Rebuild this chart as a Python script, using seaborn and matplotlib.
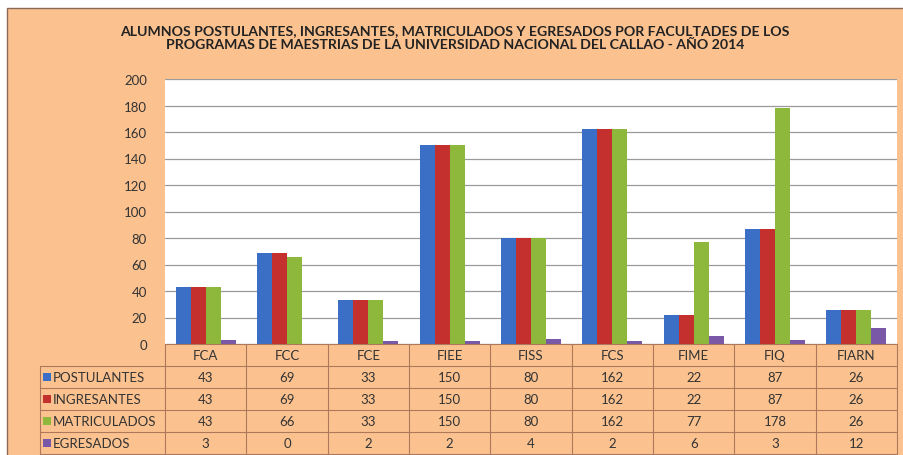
import matplotlib
matplotlib.use("Agg")
import matplotlib.pyplot as plt
from matplotlib.patches import Rectangle
import seaborn as sns
import pandas as pd

categories = ["FCA", "FCC", "FCE", "FIEE", "FISS", "FCS", "FIME", "FIQ", "FIARN"]
series_names = ["POSTULANTES", "INGRESANTES", "MATRICULADOS", "EGRESADOS"]
postulantes = [43, 69, 33, 150, 80, 162, 22, 87, 26]
ingresantes = [43, 69, 33, 150, 80, 162, 22, 87, 26]
matriculados = [43, 66, 33, 150, 80, 162, 77, 178, 26]
egresados = [3, 0, 2, 2, 4, 2, 6, 3, 12]
y_ticks = [0, 20, 40, 60, 80, 100, 120, 140, 160, 180, 200]
title = ("ALUMNOS POSTULANTES, INGRESANTES, MATRICULADOS Y EGRESADOS POR FACULTADES DE LOS\n"
         "PROGRAMAS DE MAESTRIAS DE LA UNIVERSIDAD NACIONAL DEL CALLAO - AÑO 2014")

colors = ["#3B6FC6", "#C3302E", "#8DB83C", "#7A58A8"]
peach = "#FBC290"
line_col = "#B0785A"

sns.set_theme(style="white")
plt.rcParams["font.family"] = ["Lato", "DejaVu Sans"]

series_values = [postulantes, ingresantes, matriculados, egresados]
rows = []
for name, vals in zip(series_names, series_values):
    for c, v in zip(categories, vals):
        rows.append({"cat": c, "serie": name, "val": v})
df = pd.DataFrame(rows)

W, H = 904, 456
fig = plt.figure(figsize=(W / 100, H / 100), dpi=100)
fig.patch.set_facecolor("white")

def fx(px):
    return px / W

def fy(py):
    return 1 - py / H

# outer frame
fig.patches.append(Rectangle((fx(7), fy(460)), fx(910 - 7), (460 - 9) / H,
                             transform=fig.transFigure, facecolor=peach,
                             edgecolor="#8a6a55", linewidth=1.0, zorder=0))

left, right, top, bottom = 165, 897, 80, 345
ax = fig.add_axes([fx(left), fy(bottom), fx(right - left), (bottom - top) / H])
ax.set_zorder(2)
ax.set_facecolor("white")
sns.barplot(data=df, x="cat", y="val", hue="serie", palette=colors, hue_order=series_names,
            order=categories, width=0.74, saturation=1, ax=ax, legend=False,
            edgecolor="none", linewidth=0)
ax.set_ylim(0, 200)
ax.set_xlim(-0.5, len(categories) - 0.5)
ax.set_yticks(y_ticks)
ax.set_yticklabels([str(t) for t in y_ticks], fontsize=9.5, color="#333333")
ax.tick_params(axis="y", length=0, pad=13)
ax.set_xticks([])
ax.set_xlabel("")
ax.set_ylabel("")
ax.yaxis.grid(True, color="#9a9a9a", linewidth=0.9)
ax.set_axisbelow(True)
for s in ax.spines.values():
    s.set_visible(False)

fig.text(fx(455), fy(38), title, ha="center", va="center", fontsize=10.2,
         fontweight="bold", color="#222222", linespacing=1.2, zorder=3)

# data table
tl = 40
row_edges = [345, 367, 389, 411, 433, 455]
col_w = (right - left) / len(categories)
col_edges = [left + i * col_w for i in range(len(categories) + 1)]

def hline(y, x0, x1):
    fig.add_artist(plt.Line2D([fx(x0), fx(x1)], [fy(y), fy(y)], transform=fig.transFigure,
                              color=line_col, linewidth=0.8, zorder=3))

def vline(x, y0, y1):
    fig.add_artist(plt.Line2D([fx(x), fx(x)], [fy(y0), fy(y1)], transform=fig.transFigure,
                              color=line_col, linewidth=0.8, zorder=3))

hline(row_edges[0], left, right)
for y in row_edges[1:]:
    hline(y, tl, right)
vline(tl, row_edges[1], row_edges[-1])
for x in col_edges:
    vline(x, row_edges[0], row_edges[-1])

fs = 9.5
for i, c in enumerate(categories):
    fig.text(fx(left + (i + 0.5) * col_w), fy((row_edges[0] + row_edges[1]) / 2), c,
             ha="center", va="center", fontsize=fs, color="#333333", zorder=3)

for r, (name, vals) in enumerate(zip(series_names, series_values)):
    yc = (row_edges[r + 1] + row_edges[r + 2]) / 2
    fig.patches.append(Rectangle((fx(43), fy(yc + 4)), fx(8), 8 / H, transform=fig.transFigure,
                                 facecolor=colors[r], edgecolor="none", zorder=3))
    fig.text(fx(53), fy(yc), name, ha="left", va="center", fontsize=fs, color="#333333", zorder=3)
    for i, v in enumerate(vals):
        fig.text(fx(left + (i + 0.5) * col_w), fy(yc), str(v), ha="center", va="center",
                 fontsize=fs, color="#333333", zorder=3)

fig.savefig("out.png", dpi=100, facecolor=fig.get_facecolor())
